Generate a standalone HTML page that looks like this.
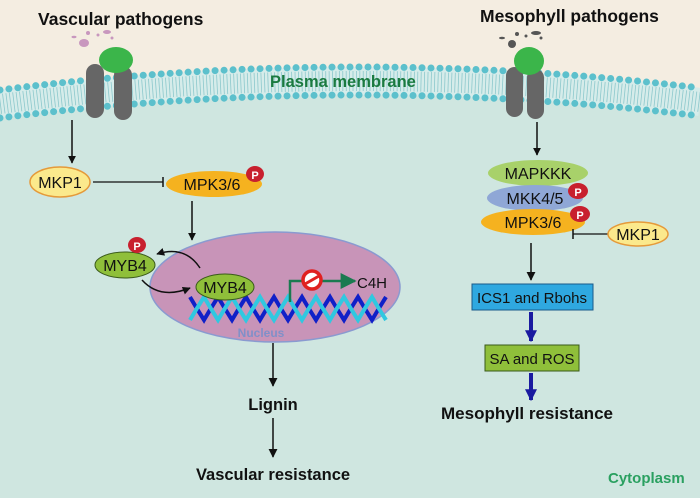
<!DOCTYPE html>
<html><head><meta charset="utf-8"><style>
html,body{margin:0;padding:0;background:#cfe6e0}
svg{display:block}
text{font-family:"Liberation Sans",Arial,sans-serif}
</style></head><body>
<svg width="700" height="498" viewBox="0 0 700 498" xmlns="http://www.w3.org/2000/svg">
<defs>
<marker id="ah" viewBox="0 0 10 10" refX="9" refY="5" markerWidth="8" markerHeight="8" orient="auto" markerUnits="userSpaceOnUse"><path d="M0,0 L10,5 L0,10 Z" fill="#111"/></marker>
<marker id="ahs" viewBox="0 0 10 10" refX="9" refY="5" markerWidth="9" markerHeight="9" orient="auto" markerUnits="userSpaceOnUse"><path d="M0,0 L10,5 L0,10 Z" fill="#111"/></marker>
<marker id="ag" viewBox="0 0 10 10" refX="9" refY="5" markerWidth="18" markerHeight="16" orient="auto" markerUnits="userSpaceOnUse"><path d="M0,0 L10,5 L0,10 Z" fill="#1a7a50"/></marker>
<marker id="ab" viewBox="0 0 10 10" refX="9" refY="5" markerWidth="12" markerHeight="14" orient="auto" markerUnits="userSpaceOnUse"><path d="M0,0 L10,5 L0,10 Z" fill="#1a1aa0"/></marker>
</defs>
<rect width="700" height="498" fill="#cfe6e0"/>
<path d="M0,0 H700 V88 Q350,45 0,90 Z" fill="#f4ede1"/>
<path d="M0,104 Q350,59 700,102" fill="none" stroke="#d6ecea" stroke-width="28"/>
<path d="M0,104 Q350,59 700,102" fill="none" stroke="#8cc8cc" stroke-width="20" stroke-dasharray="0.8 2.6"/>
<path d="M0,90 Q350,45 700,88" fill="none" stroke="#5cc0cc" stroke-width="7" stroke-linecap="round" stroke-dasharray="0 9"/>
<path d="M0,118 Q350,73 700,116" fill="none" stroke="#5cc0cc" stroke-width="7" stroke-linecap="round" stroke-dasharray="0 9"/>
<rect x="86" y="64" width="18" height="54" rx="9" fill="#666"/>
<rect x="114" y="66" width="18" height="54" rx="9" fill="#666"/>
<ellipse cx="116" cy="60" rx="17" ry="13" fill="#3bb54a"/>
<g fill="#c897be"><ellipse cx="84" cy="43" rx="5" ry="4"/><circle cx="88" cy="33" r="2"/><circle cx="98" cy="35" r="1.5"/><ellipse cx="107" cy="32" rx="4" ry="2"/><circle cx="112" cy="38" r="1.5"/><ellipse cx="74" cy="37" rx="2.5" ry="1.2"/></g>
<rect x="506" y="67" width="17" height="50" rx="8.5" fill="#666"/>
<rect x="527" y="69" width="17" height="50" rx="8.5" fill="#666"/>
<ellipse cx="529" cy="61" rx="15" ry="14" fill="#3bb54a"/>
<g fill="#555"><ellipse cx="512" cy="44" rx="4" ry="4"/><circle cx="517" cy="34" r="2"/><circle cx="526" cy="36" r="1.5"/><ellipse cx="536" cy="33" rx="5" ry="2"/><circle cx="541" cy="38" r="1.5"/><ellipse cx="502" cy="38" rx="3" ry="1.2"/></g>
<text x="38" y="25" font-size="17.5" font-weight="bold" fill="#111">Vascular pathogens</text>
<text x="480" y="22" font-size="17.5" font-weight="bold" fill="#111">Mesophyll pathogens</text>
<text x="270" y="87" font-size="16.5" font-weight="bold" fill="#1a7a40">Plasma membrane</text>
<line x1="72" y1="120" x2="72" y2="163" stroke="#111" stroke-width="1.5" marker-end="url(#ah)"/>
<ellipse cx="60" cy="182" rx="30" ry="15" fill="#fbe98c" stroke="#e59a3a" stroke-width="1.5"/>
<text x="60" y="188" font-size="16" text-anchor="middle" fill="#111">MKP1</text>
<line x1="93" y1="182" x2="163" y2="182" stroke="#111" stroke-width="1.2"/>
<line x1="163" y1="177" x2="163" y2="187" stroke="#111" stroke-width="1.5"/>
<ellipse cx="214" cy="184" rx="48" ry="13" fill="#f5b21f"/>
<text x="212" y="190" font-size="16" text-anchor="middle" fill="#111">MPK3/6</text>
<ellipse cx="255" cy="174" rx="9" ry="8" fill="#c8202e"/><text x="255" y="179" font-size="11" font-weight="bold" text-anchor="middle" fill="#fff">P</text>
<line x1="192" y1="201" x2="192" y2="240" stroke="#111" stroke-width="1.5" marker-end="url(#ah)"/>
<ellipse cx="275" cy="287" rx="125" ry="55" fill="#c894b8" stroke="#8a9ad0" stroke-width="1.5"/>
<g fill="none" stroke-width="4">
<path d="M190,297 q7,12 14,23 q7,-12 14,-23 q7,12 14,23 q7,-12 14,-23 q7,12 14,23 q7,-12 14,-23 q7,12 14,23 q7,-12 14,-23 q7,12 14,23 q7,-12 14,-23 q7,12 14,23 q7,-12 14,-23 q7,12 14,23 q7,-12 14,-23" stroke="#1020c8"/>
<path d="M190,320 q7,-12 14,-23 q7,12 14,23 q7,-12 14,-23 q7,12 14,23 q7,-12 14,-23 q7,12 14,23 q7,-12 14,-23 q7,12 14,23 q7,-12 14,-23 q7,12 14,23 q7,-12 14,-23 q7,12 14,23 q7,-12 14,-23 q7,12 14,23" stroke="#30c8e0"/>
</g>
<text x="261" y="337" font-size="12" font-weight="bold" text-anchor="middle" fill="#8090c8">Nucleus</text>
<ellipse cx="125" cy="265" rx="30" ry="13" fill="#8fbf3a" stroke="#3a5a1a" stroke-width="1"/>
<text x="125" y="271" font-size="16" text-anchor="middle" fill="#111">MYB4</text>
<ellipse cx="137" cy="245" rx="9" ry="8" fill="#c8202e"/><text x="137" y="250" font-size="11" font-weight="bold" text-anchor="middle" fill="#fff">P</text>
<ellipse cx="225" cy="287" rx="29" ry="13" fill="#8fbf3a" stroke="#3a5a1a" stroke-width="1"/>
<text x="225" y="293" font-size="16" text-anchor="middle" fill="#111">MYB4</text>
<path d="M200,268 Q185,245 157,254" fill="none" stroke="#111" stroke-width="1.5" marker-end="url(#ah)"/>
<path d="M142,280 Q160,300 190,288" fill="none" stroke="#111" stroke-width="1.5" marker-end="url(#ah)"/>
<path d="M290,302 V281 H355" fill="none" stroke="#1a7a50" stroke-width="2.5" marker-end="url(#ag)"/>
<circle cx="312" cy="280" r="9" fill="#fff" stroke="#e02020" stroke-width="3.5"/>
<line x1="305" y1="284" x2="319" y2="276" stroke="#e02020" stroke-width="3"/>
<text x="357" y="288" font-size="15" fill="#111">C4H</text>
<line x1="273" y1="343" x2="273" y2="386" stroke="#111" stroke-width="1.5" marker-end="url(#ahs)"/>
<text x="273" y="410" font-size="16.5" font-weight="bold" text-anchor="middle" fill="#111">Lignin</text>
<line x1="273" y1="418" x2="273" y2="457" stroke="#111" stroke-width="1.5" marker-end="url(#ahs)"/>
<text x="273" y="480" font-size="16.5" font-weight="bold" text-anchor="middle" fill="#111">Vascular resistance</text>
<line x1="537" y1="122" x2="537" y2="155" stroke="#111" stroke-width="1.5" marker-end="url(#ah)"/>
<ellipse cx="538" cy="173" rx="50" ry="13" fill="#a8d16a"/>
<text x="538" y="179" font-size="16" text-anchor="middle" fill="#111">MAPKKK</text>
<ellipse cx="535" cy="198" rx="48" ry="13" fill="#8fa7d6"/>
<text x="535" y="204" font-size="16" text-anchor="middle" fill="#111">MKK4/5</text>
<ellipse cx="578" cy="191" rx="10" ry="8" fill="#c8202e"/><text x="578" y="196" font-size="11" font-weight="bold" text-anchor="middle" fill="#fff">P</text>
<ellipse cx="533" cy="222" rx="52" ry="13" fill="#f5b21f"/>
<text x="533" y="228" font-size="16" text-anchor="middle" fill="#111">MPK3/6</text>
<ellipse cx="580" cy="214" rx="10" ry="8" fill="#c8202e"/><text x="580" y="219" font-size="11" font-weight="bold" text-anchor="middle" fill="#fff">P</text>
<line x1="573" y1="234" x2="608" y2="234" stroke="#111" stroke-width="1.2"/>
<line x1="573" y1="229" x2="573" y2="239" stroke="#111" stroke-width="1.5"/>
<ellipse cx="638" cy="234" rx="30" ry="12" fill="#fbe98c" stroke="#e59a3a" stroke-width="1.5"/>
<text x="638" y="240" font-size="16" text-anchor="middle" fill="#111">MKP1</text>
<line x1="531" y1="243" x2="531" y2="280" stroke="#111" stroke-width="1.5" marker-end="url(#ahs)"/>
<rect x="472" y="284" width="121" height="26" fill="#2fa8e0" stroke="#1a5a8a" stroke-width="1"/>
<text x="532" y="303" font-size="15" text-anchor="middle" fill="#111">ICS1 and Rbohs</text>
<line x1="531" y1="312" x2="531" y2="341" stroke="#1a1aa0" stroke-width="4" marker-end="url(#ab)"/>
<rect x="485" y="345" width="94" height="26" fill="#8fbf3a" stroke="#3a5a1a" stroke-width="1"/>
<text x="532" y="364" font-size="15" text-anchor="middle" fill="#111">SA and ROS</text>
<line x1="531" y1="373" x2="531" y2="400" stroke="#1a1aa0" stroke-width="4" marker-end="url(#ab)"/>
<text x="527" y="419" font-size="17" font-weight="bold" text-anchor="middle" fill="#111">Mesophyll resistance</text>
<text x="608" y="483" font-size="15" font-weight="bold" fill="#2aa060">Cytoplasm</text>
</svg>
</body></html>
